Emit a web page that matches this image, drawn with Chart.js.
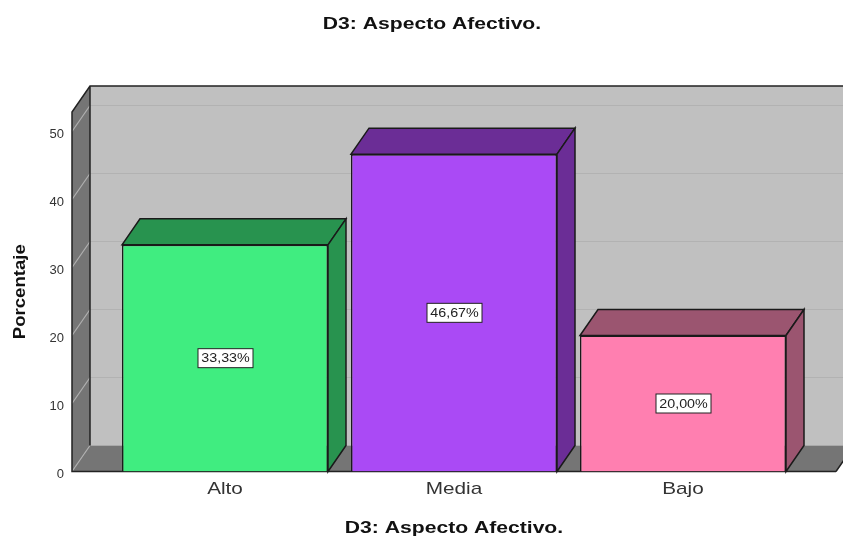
<!DOCTYPE html>
<html lang="es">
<head>
  <meta charset="UTF-8">
  <title>D3: Aspecto Afectivo.</title>
  <style>
    body { margin: 0; background: #fff; }
    canvas { display: block; }
  </style>
</head>
<body>
<canvas id="chart" width="843" height="536"></canvas>

<script src="https://cdn.jsdelivr.net/npm/chart.js"></script>
<script>
const categories = ["Alto", "Media", "Bajo"];
const values = [33.33, 46.67, 20.0];
const valueLabels = ["33,33%", "46,67%", "20,00%"];
const frontColors = ["#40ed80", "#aa4af5", "#ff7fb0"];
const topColors = ["#28934f", "#6b2d96", "#9b5570"];
const titleText = "D3: Aspecto Afectivo.";
const yTitle = "Porcentaje";

// fake 3d depth of the SPSS box, in pixels
const depthX = 18;
const depthY = 26;
const wallInset = 38.5; // left wall sits this far outside the category band

function poly(ctx, pts, fill, stroke) {
  ctx.beginPath();
  pts.forEach((p, i) => (i ? ctx.lineTo(p[0], p[1]) : ctx.moveTo(p[0], p[1])));
  ctx.closePath();
  if (fill) { ctx.fillStyle = fill; ctx.fill(); }
  if (stroke) { ctx.strokeStyle = stroke; ctx.lineWidth = 1.5; ctx.stroke(); }
}

// the original picture was stretched sideways, so its text is wider than any installed font
function stretched(ctx, k, dy, draw) {
  const fillText = ctx.fillText;
  ctx.fillText = function (text, x, y) {
    ctx.save();
    ctx.translate(x, y + dy);
    ctx.scale(k, 1);
    fillText.call(ctx, text, 0, 0);
    ctx.restore();
  };
  draw();
  delete ctx.fillText;
}

function wrapText(ctx, obj, method, k, dy) {
  const orig = obj[method];
  obj[method] = function (...args) {
    stretched(ctx, k, dy, () => orig.apply(obj, args));
  };
}

const box3d = {
  id: "box3d",
  afterLayout(chart) {
    // the title is centred a bit right of the page in the original
    chart.titleBlock.left = 66.5;
    if (chart.$wrapped) return;
    chart.$wrapped = true;
    wrapText(chart.ctx, chart.titleBlock, "draw", 1.32, 0);
    wrapText(chart.ctx, chart.scales.x, "drawLabels", 1.22, 0);
    wrapText(chart.ctx, chart.scales.x, "drawTitle", 1.32, 2);
    wrapText(chart.ctx, chart.scales.y, "drawLabels", 1, 2.5);
    wrapText(chart.ctx, chart.scales.y, "drawTitle", 1.16, 0);
  },
  beforeDatasetsDraw(chart) {
    const { ctx, chartArea, scales } = chart;
    const w = chart.width;
    const l = chartArea.left - wallInset;
    const r = chartArea.right + wallInset;
    const b = scales.y.getPixelForValue(0);
    const t = chartArea.top;
    ctx.save();
    // back wall, side wall, floor
    poly(ctx, [[l + depthX, t - depthY], [w + 5, t - depthY], [w + 5, b - depthY], [l + depthX, b - depthY]], "#c0c0c0");
    poly(ctx, [[l, t], [l + depthX, t - depthY], [l + depthX, b - depthY], [l, b]], "#757575");
    poly(ctx, [[l, b], [l + depthX, b - depthY], [r + depthX, b - depthY], [r, b]], "#757575");
    // grid lines
    scales.y.ticks.forEach((tick) => {
      const y = scales.y.getPixelForValue(tick.value);
      ctx.strokeStyle = "#b0b0b0";
      ctx.lineWidth = 1.2;
      ctx.beginPath();
      ctx.moveTo(l, y);
      ctx.lineTo(l + depthX, y - depthY);
      ctx.stroke();
      if (tick.value > 0) {
        ctx.strokeStyle = "#b2b2b2";
        ctx.beginPath();
        ctx.moveTo(l + depthX, y - depthY);
        ctx.lineTo(w, y - depthY);
        ctx.stroke();
      }
    });
    // box edges
    ctx.strokeStyle = "#222";
    ctx.lineWidth = 1.5;
    ctx.beginPath();
    ctx.moveTo(r, b);
    ctx.lineTo(l, b);
    ctx.lineTo(l, t);
    ctx.lineTo(l + depthX, t - depthY);
    ctx.lineTo(w, t - depthY);
    ctx.moveTo(l + depthX, t - depthY);
    ctx.lineTo(l + depthX, b - depthY);
    ctx.moveTo(r, b);
    ctx.lineTo(r + depthX, b - depthY);
    ctx.stroke();
    // top and side faces of the bars
    chart.getDatasetMeta(0).data.forEach((bar, i) => {
      const x0 = bar.x - bar.width / 2;
      const x1 = bar.x + bar.width / 2;
      poly(ctx, [[x0, bar.y], [x0 + depthX, bar.y - depthY], [x1 + depthX, bar.y - depthY], [x1, bar.y]], topColors[i], "#1a1a1a");
      poly(ctx, [[x1, bar.y], [x1 + depthX, bar.y - depthY], [x1 + depthX, bar.base - depthY], [x1, bar.base]], topColors[i], "#1a1a1a");
    });
    ctx.restore();
  },
  afterDatasetsDraw(chart) {
    const { ctx } = chart;
    ctx.save();
    ctx.font = "13px 'Liberation Sans'";
    ctx.textAlign = "center";
    ctx.textBaseline = "middle";
    chart.getDatasetMeta(0).data.forEach((bar, i) => {
      const y = (bar.y + bar.base) / 2;
      ctx.fillStyle = "#fff";
      ctx.strokeStyle = "#222";
      ctx.lineWidth = 1;
      ctx.fillRect(bar.x - 27, y - 9.5, 55, 19);
      ctx.strokeRect(bar.x - 27, y - 9.5, 55, 19);
      ctx.fillStyle = "#222";
      stretched(ctx, 1.1, 0.5, () => ctx.fillText(valueLabels[i], bar.x + 0.5, y));
    });
    ctx.restore();
  }
};

new Chart(document.getElementById("chart"), {
  type: "bar",
  data: {
    labels: categories,
    datasets: [{
      data: values,
      backgroundColor: frontColors,
      borderColor: "#1a1a1a",
      borderWidth: 1.5,
      categoryPercentage: 1,
      barPercentage: 206 / 229
    }]
  },
  plugins: [box3d],
  options: {
    responsive: false,
    animation: false,
    layout: { padding: { right: 45.5 } },
    plugins: {
      legend: { display: false },
      tooltip: { enabled: false },
      title: {
        display: true,
        text: titleText,
        color: "#111",
        font: { family: "'Liberation Sans'", size: 16, weight: "bold" },
        padding: { top: 15, bottom: 77.8 }
      }
    },
    scales: {
      x: {
        offset: true,
        grid: { display: false, drawTicks: false },
        border: { display: false },
        ticks: {
          color: "#333",
          padding: 8,
          font: { family: "'Liberation Sans'", size: 17 }
        },
        title: {
          display: true,
          text: titleText,
          color: "#111",
          font: { family: "'Liberation Sans'", size: 16, weight: "bold" },
          padding: 0
        },
        afterFit(scale) { scale.height = 64.5; }
      },
      y: {
        min: 0,
        max: 52.87,
        grid: { display: false, drawTicks: false },
        border: { display: false },
        ticks: {
          stepSize: 10,
          includeBounds: false,
          color: "#333",
          padding: 46.5,
          font: { family: "'Liberation Sans'", size: 13 }
        },
        title: {
          display: true,
          text: yTitle,
          color: "#111",
          font: { family: "'Liberation Sans'", size: 16, weight: "bold" },
          padding: { top: 11, bottom: 0 }
        },
        afterFit(scale) { scale.width = 110.5; }
      }
    }
  }
});
</script>
</body>
</html>
